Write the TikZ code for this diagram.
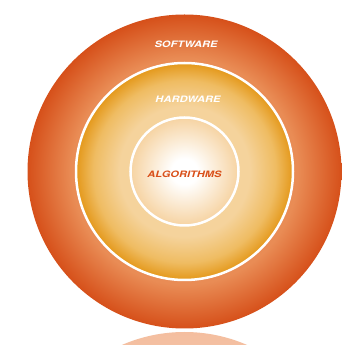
\documentclass[tikz,border=0pt]{standalone}
\usepackage{fontspec}
\setsansfont{TeX Gyre Heros}
\usepackage{graphicx}
\definecolor{oDark}{HTML}{D6501A}
\definecolor{oLight}{HTML}{E98C55}
\definecolor{gDark}{HTML}{E4981A}
\definecolor{gMid}{HTML}{EFBC62}
\definecolor{gLight}{HTML}{F5D39C}
\definecolor{iEdge}{HTML}{F6D3A2}
\definecolor{algoRed}{HTML}{D9501A}
\definecolor{reflTop}{HTML}{F4BE9F}
\definecolor{reflBot}{HTML}{FCE6D8}
\pgfdeclareradialshading{outerS}{\pgfpoint{0bp}{0bp}}{color(0bp)=(oLight); color(18bp)=(oLight); color(25bp)=(oDark); color(50bp)=(oDark)}
\pgfdeclareradialshading{midS}{\pgfpoint{0bp}{0bp}}{color(0bp)=(gLight); color(15bp)=(gLight); color(21bp)=(gMid); color(25bp)=(gDark); color(50bp)=(gDark)}
\pgfdeclareradialshading{innerS}{\pgfpoint{0bp}{0bp}}{color(0bp)=(white); color(6bp)=(white); color(25bp)=(iEdge); color(50bp)=(iEdge)}
\tikzset{
  lbl/.style={font=\sffamily\bfseries\itshape\fontsize{8.8}{10}\selectfont, inner sep=0pt},
  ring/.style={draw=white, line width=2.5pt},
}
\newcommand{\wide}[1]{\scalebox{1.26}[1]{#1}}
\begin{document}
\begin{tikzpicture}[x=1pt,y=1pt]
\useasboundingbox (0,0) rectangle (359,345);
\fill[white] (0,0) rectangle (359,345);
% reflection
\begin{scope}
  \clip (0,0) rectangle (359,13);
  \shade[top color=reflTop, bottom color=reflBot] (184.5,-144) circle (157);
\end{scope}
% circles
\coordinate (c) at (184.5,173.5);
\shade[shading=outerS] (c) circle (157);
\shade[shading=midS] (c) circle (108.5);
\draw[ring] (c) circle (108.5);
\shade[shading=innerS] (c) circle (54);
\draw[ring] (c) circle (54);
% labels
\node[lbl, text=white] (sw) at (186,301) {\wide{SOFTWARE}};
\node[lbl, text=white] (hw) at (188,246) {\wide{HARDWARE}};
\node[lbl, text=algoRed] (al) at (184.5,171) {\wide{ALGORITHMS}};
\end{tikzpicture}
\end{document}
